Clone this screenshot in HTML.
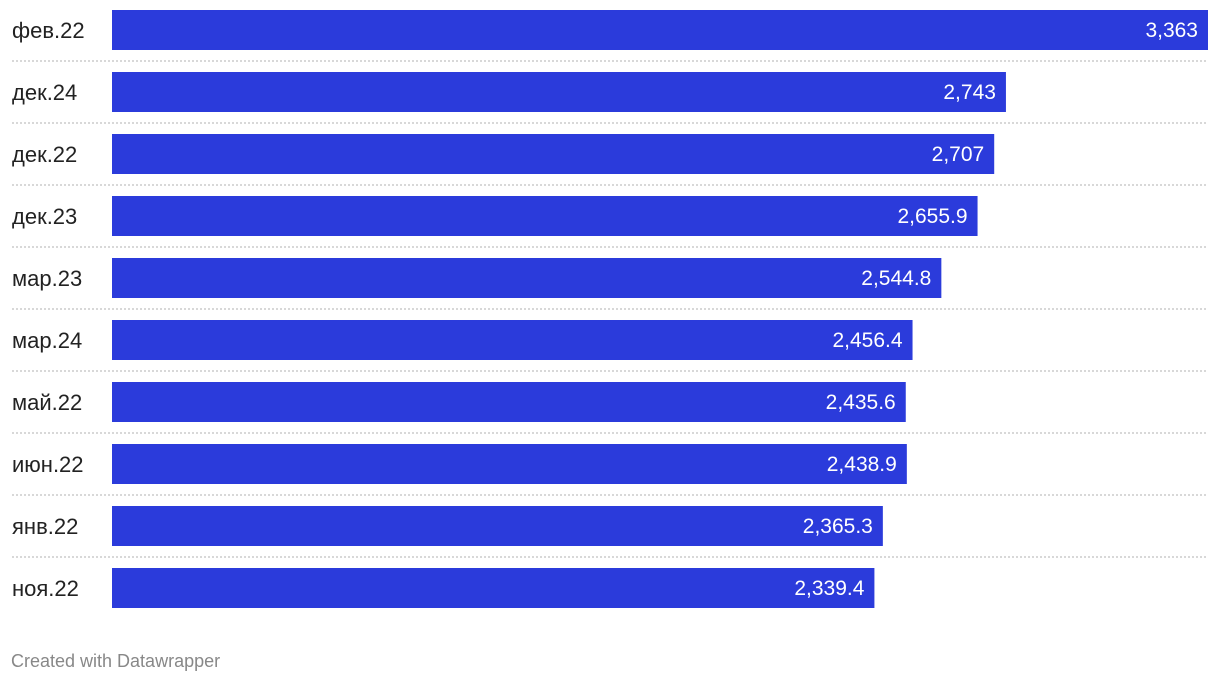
<!DOCTYPE html>
<html><head><meta charset="utf-8"><style>
body{margin:0;background:#fff;width:1220px;height:684px;overflow:hidden;font-family:"Liberation Sans",sans-serif}
</style></head><body>
<svg id="chart" width="1220" height="684" xmlns="http://www.w3.org/2000/svg"></svg>
<script>
const categories=["фев.22","дек.24","дек.22","дек.23","мар.23","мар.24","май.22","июн.22","янв.22","ноя.22"];
const values=[3363,2743,2707,2655.9,2544.8,2456.4,2435.6,2438.9,2365.3,2339.4];
const valueLabels=["3,363","2,743","2,707","2,655.9","2,544.8","2,456.4","2,435.6","2,438.9","2,365.3","2,339.4"];
const svg=document.getElementById('chart');
const NS='http://www.w3.org/2000/svg';
const x0=112,x1=1208,maxV=Math.max(...values);
const xs=v=>x0+(x1-x0)*v/maxV;
const ys=i=>10+i*62;
function mk(t,a){const e=document.createElementNS(NS,t);for(const k in a)e.setAttribute(k,a[k]);svg.appendChild(e);return e;}
categories.forEach((c,i)=>{
  const y=ys(i);
  const lab=mk('text',{x:12,y:y+28,'font-size':22,fill:'#222'});
  lab.textContent=c;
  
  
  const r=mk('rect',{x:x0,y:y,width:xs(values[i])-x0,height:40,fill:'#2b3bdb'});
  
  
  const v=mk('text',{x:xs(values[i])-10,y:y+27,'font-size':21,fill:'#fff','text-anchor':'end'});
  v.textContent=valueLabels[i];
  
  
  if(i<categories.length-1){
    const l=mk('line',{x1:12,x2:1208,y1:y+51,y2:y+51,stroke:'#ccc','stroke-width':1.5,'stroke-dasharray':'2,2'});
    
    
  }
});
const f=mk('text',{x:11,y:667,'font-size':18,fill:'#888'});
f.textContent='Created with Datawrapper';


</script>
</body></html>
